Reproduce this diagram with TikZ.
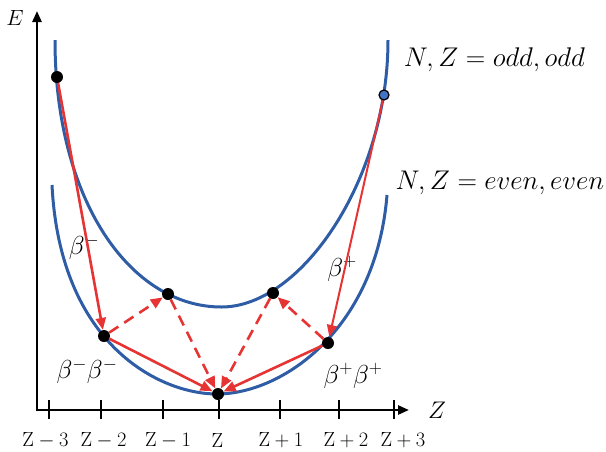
\RequirePackage{fix-cm}
\documentclass[tikz,border=0pt]{standalone}
\usetikzlibrary{arrows.meta}
\definecolor{curveblue}{RGB}{46,92,165}
\definecolor{dotblue}{RGB}{68,114,196}
\definecolor{arrred}{RGB}{230,52,52}
\tikzset{
  curve/.style={curveblue, line width=3pt},
  axis/.style={black, line width=2.5pt, -{Triangle[length=11pt,width=9pt]}},
  tick/.style={black, line width=2pt},
  dot/.style={circle, fill=black, inner sep=0pt, minimum size=12pt},
  bdot/.style={circle, fill=dotblue, draw=black, line width=1.2pt, inner sep=0pt, minimum size=10pt},
  solidarr/.style={arrred, line width=2.6pt, -{Triangle[length=12pt,width=10pt]}},
  thinarr/.style={arrred, line width=2pt, -{Triangle[length=12pt,width=10pt]}},
  dasharr/.style={arrred, line width=2.6pt, dash pattern=on 11pt off 7pt, -{Triangle[length=12pt,width=10pt]}},
  ticklab/.style={font=\fontsize{20.5}{24}\selectfont, inner sep=0pt},
  biglab/.style={font=\fontsize{27}{30}\selectfont, inner sep=0pt},
  betalab/.style={font=\fontsize{26}{30}\selectfont, inner sep=0pt}
}
\begin{document}
\begin{tikzpicture}[x=1pt,y=-1pt]
\useasboundingbox (0,0) rectangle (606,451);
% axes
\coordinate (O) at (37,410);
\coordinate (Etop) at (37,11);
\coordinate (Zend) at (409,410);
\draw[axis] ([yshift=-1.25pt]O) -- (Etop);
\draw[axis] ([xshift=-1.25pt]O) -- (Zend);
\foreach \x in {49,101,163,219,280,339,394}{
  \draw[tick] (\x,400) -- (\x,419);
}
\node[font=\fontsize{22}{24}\selectfont, inner sep=0pt] (Elab) at (15,18) {$E$};
\node[font=\fontsize{24}{26}\selectfont, inner sep=0pt] (Zlab) at (437,410) {$Z$};
\node[ticklab] (t1) at (45.5,440) {$\mathrm{Z}-3$};
\node[ticklab] (t2) at (103.5,440) {$\mathrm{Z}-2$};
\node[ticklab] (t3) at (168,440) {$\mathrm{Z}-1$};
\node[ticklab] (t4) at (217.5,440) {$\mathrm{Z}$};
\node[ticklab] (t5) at (281,440) {$\mathrm{Z}+1$};
\node[ticklab] (t6) at (346,440) {$\mathrm{Z}+2$};
\node[ticklab] (t7) at (403,440) {$\mathrm{Z}+3$};
% curves
\draw[curve] (55,40) .. controls (55,200) and (130,307) .. (221.5,307)
                     .. controls (301,307) and (388,180) .. (388,40);
\draw[curve] (52,185) .. controls (60,345) and (160,394) .. (217,394)
                      .. controls (282,394) and (376,330) .. (387,195);
% labels
\node[biglab] (odd) at (494.5,60) {$N,Z=odd,odd$};
\node[biglab] (even) at (500,183) {$N,Z=even,even$};
\node[betalab] (bm) at (84,247) {$\beta^{-}$};
\node[betalab] (bmbm) at (87,371) {$\beta^{-}\beta^{-}$};
\node[betalab] (bp) at (342,269) {$\beta^{+}$};
\node[betalab] (bpbp) at (353,376) {$\beta^{+}\beta^{+}$};
% dots
\node[dot] (A) at (57,77) {};
\node[bdot] (B) at (384,95) {};
\node[dot] (C) at (168,294) {};
\node[dot] (D) at (273,293) {};
\node[dot] (E) at (104,336) {};
\node[dot] (F) at (328,343) {};
\node[dot] (G) at (218,394) {};
% arrows
\draw[solidarr] (A) -- (E);
\draw[thinarr] (B) -- (F);
\draw[solidarr] (E) -- (G);
\draw[solidarr] (F) -- (G);
\draw[dasharr] (E) -- (C);
\draw[dasharr] (C) -- (G);
\draw[dasharr] (D) -- (G);
\draw[dasharr] (F) -- (D);
\end{tikzpicture}
\end{document}
